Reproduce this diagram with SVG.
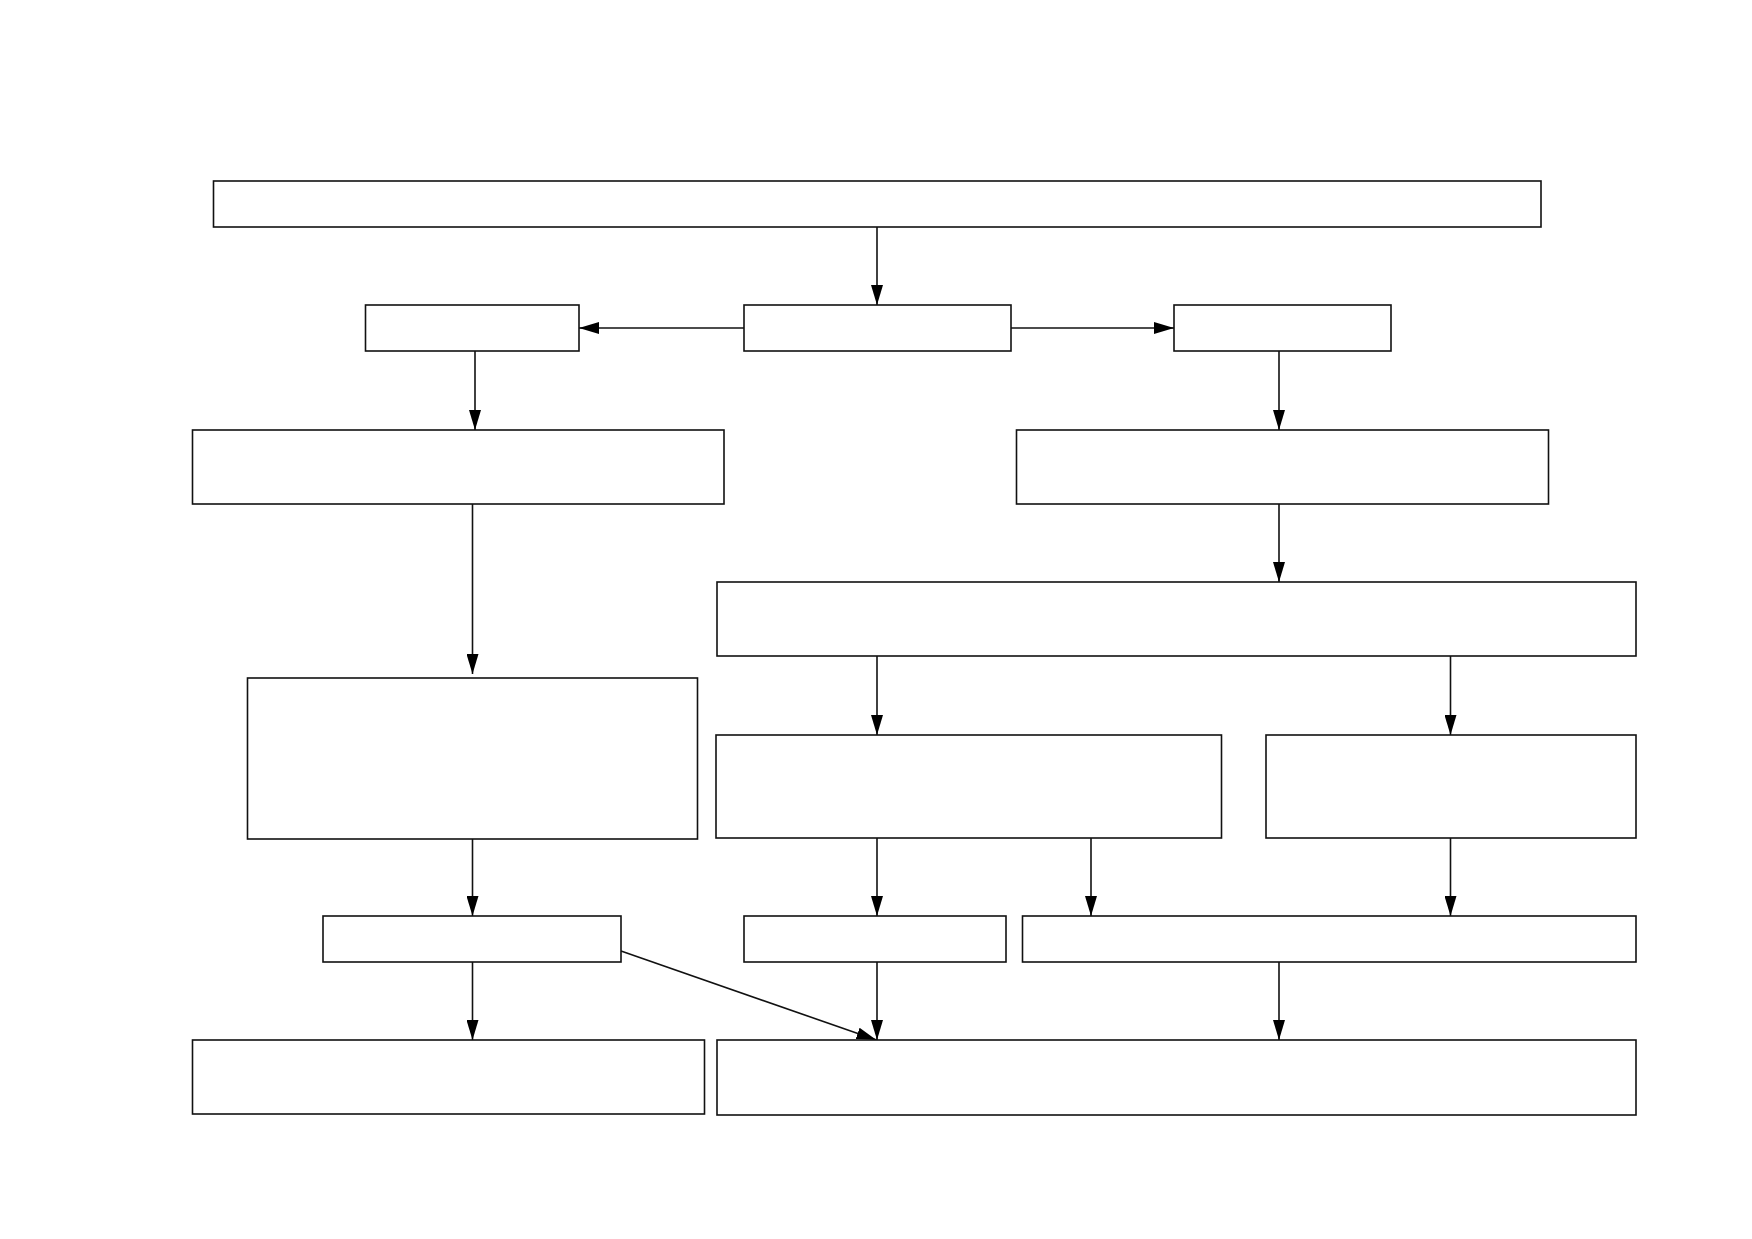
<svg xmlns="http://www.w3.org/2000/svg" width="1752" height="1239" viewBox="0 0 1752 1239">
<style>
.box{fill:#fff;stroke:#111;stroke-width:1.6}
.edge{fill:none;stroke:#111;stroke-width:1.6}
</style>
<defs>
<marker id="ah" viewBox="0 0 20 12" refX="20" refY="6" markerWidth="20" markerHeight="12" markerUnits="userSpaceOnUse" orient="auto">
<path d="M0,0 L20,6 L0,12 Z" fill="#000"/>
</marker>
</defs>
<rect width="1752" height="1239" fill="#fff"/>
<g id="connectors">
<line class="edge" x1="877" y1="227" x2="877" y2="305" marker-end="url(#ah)"/>
<line class="edge" x1="744" y1="328" x2="579" y2="328" marker-end="url(#ah)"/>
<line class="edge" x1="1011" y1="328" x2="1174" y2="328" marker-end="url(#ah)"/>
<line class="edge" x1="475" y1="351" x2="475" y2="430" marker-end="url(#ah)"/>
<line class="edge" x1="1279" y1="351" x2="1279" y2="430" marker-end="url(#ah)"/>
<line class="edge" x1="472.5" y1="504" x2="472.5" y2="674" marker-end="url(#ah)"/>
<line class="edge" x1="1279" y1="504" x2="1279" y2="582" marker-end="url(#ah)"/>
<line class="edge" x1="877" y1="656" x2="877" y2="735" marker-end="url(#ah)"/>
<line class="edge" x1="1450.5" y1="656" x2="1450.5" y2="735" marker-end="url(#ah)"/>
<line class="edge" x1="472.5" y1="838" x2="472.5" y2="916" marker-end="url(#ah)"/>
<line class="edge" x1="877" y1="838" x2="877" y2="916" marker-end="url(#ah)"/>
<line class="edge" x1="1091" y1="838" x2="1091" y2="916" marker-end="url(#ah)"/>
<line class="edge" x1="1450.5" y1="838" x2="1450.5" y2="916" marker-end="url(#ah)"/>
<line class="edge" x1="472.5" y1="962" x2="472.5" y2="1040" marker-end="url(#ah)"/>
<line class="edge" x1="877" y1="962" x2="877" y2="1040" marker-end="url(#ah)"/>
<line class="edge" x1="1279" y1="962" x2="1279" y2="1040" marker-end="url(#ah)"/>
<line class="edge" x1="621" y1="951" x2="876.5" y2="1040" marker-end="url(#ah)"/>
</g>
<g id="n1"><rect class="box" x="213.5" y="181" width="1327.5" height="46"/></g>
<g id="n2"><rect class="box" x="365.5" y="305" width="213.5" height="46"/></g>
<g id="n3"><rect class="box" x="744" y="305" width="267" height="46"/></g>
<g id="n4"><rect class="box" x="1174" y="305" width="217" height="46"/></g>
<g id="n5"><rect class="box" x="192.5" y="430" width="531.5" height="74"/></g>
<g id="n6"><rect class="box" x="1016.5" y="430" width="532" height="74"/></g>
<g id="n7"><rect class="box" x="717" y="582" width="919" height="74"/></g>
<g id="n8"><rect class="box" x="247.5" y="678" width="450" height="161"/></g>
<g id="n9"><rect class="box" x="716" y="735" width="505.5" height="103"/></g>
<g id="n10"><rect class="box" x="1266" y="735" width="370" height="103"/></g>
<g id="n11"><rect class="box" x="323" y="916" width="298" height="46"/></g>
<g id="n12"><rect class="box" x="744" y="916" width="262" height="46"/></g>
<g id="n13"><rect class="box" x="1022.5" y="916" width="613.5" height="46"/></g>
<g id="n14"><rect class="box" x="192.5" y="1040" width="512" height="74"/></g>
<g id="n15"><rect class="box" x="717" y="1040" width="919" height="75"/></g>
</svg>
